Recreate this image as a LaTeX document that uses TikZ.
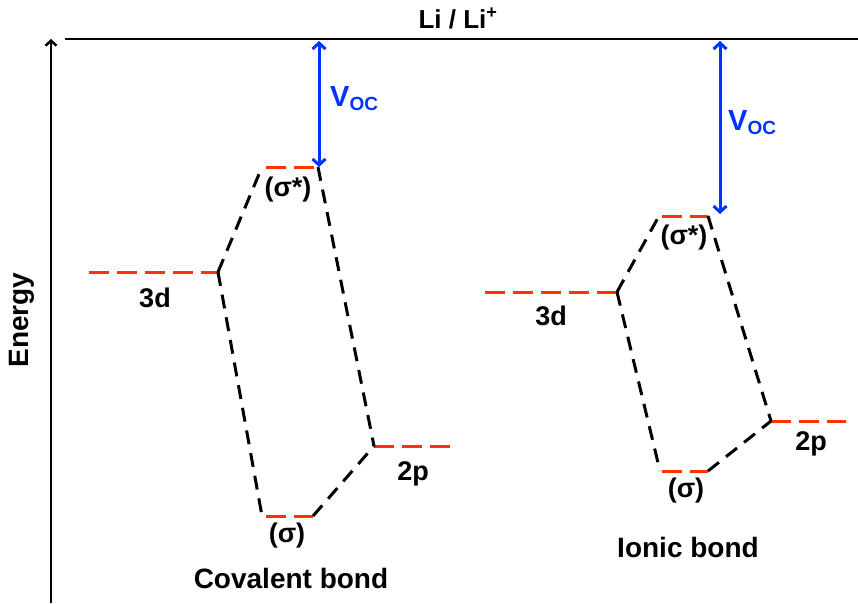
\documentclass[tikz,border=0pt]{standalone}
\usepackage{fontspec}
\setmainfont{Liberation Sans}
\usetikzlibrary{arrows.meta}
\definecolor{lvlred}{RGB}{255,51,0}
\definecolor{vblue}{RGB}{0,51,255}
\begin{document}
\begin{tikzpicture}[x=1pt,y=-1pt,
  level/.style={draw=lvlred,line width=3pt,dash pattern=on 20pt off 8pt},
  link/.style={draw=black,line width=3pt,dash pattern=on 14pt off 9pt},
  lab/.style={inner sep=0pt,anchor=base,font=\fontsize{27}{32}\selectfont\bfseries},
  bond/.style={inner sep=0pt,anchor=base,font=\fontsize{28}{33}\selectfont\bfseries},
  voc/.style={inner sep=0pt,anchor=base west,text=vblue,font=\fontsize{29}{34}\selectfont\bfseries},
  vocarrow/.style={draw=vblue,line width=3pt,{Straight Barb[length=6pt,width=13pt]}-{Straight Barb[length=6pt,width=13pt]}}
]
\useasboundingbox (0,0) rectangle (858,603);
% reference line and axis
\coordinate (topL) at (65,39);
\coordinate (topR) at (858,39);
\draw[line width=2.7pt] (topL) -- (topR);
\node[inner sep=0pt,anchor=base,font=\fontsize{26}{30}\selectfont\bfseries] (li) at (458,28) {Li / Li\textsuperscript{+}};
\coordinate (axB) at (51,603);
\coordinate (axT) at (51,39);
\draw[line width=2.5pt,-{Straight Barb[length=5pt,width=11pt]}] (axB) -- (axT);
\node[inner sep=0pt,rotate=90,font=\fontsize{28}{33}\selectfont\bfseries] (energy) at (22,320) {Energy};

% ---- Covalent bond ----
\coordinate (a3dL) at (89,272);  \coordinate (a3dR) at (218,272);
\coordinate (asL) at (266,167);  \coordinate (asR) at (314,167);
\coordinate (abL) at (266,516);  \coordinate (abR) at (313,516);
\coordinate (a2pL) at (374,446); \coordinate (a2pR) at (450,446);
\draw[level] (a3dL) -- (a3dR);
\draw[level] (asL) -- (asR);
\draw[level] (abL) -- (abR);
\draw[level] (a2pL) -- (a2pR);
\draw[link] (a3dR) -- (262,167);
\draw[link] (a3dR) -- (262,516);
\draw[link] (318,167) -- (a2pL);
\draw[link] (abR) -- (a2pL);
\node[lab] (a3dT) at (155,307) {3d};
\node[lab] (asT) at (288,196) {(σ*)};
\node[lab] (abT) at (287,542) {(σ)};
\node[lab] (a2pT) at (413,480) {2p};
\node[bond] (cov) at (291,588) {Covalent bond};
\coordinate (avT) at (319,41); \coordinate (avB) at (319,167);
\draw[vocarrow] (avT) -- (avB);
\node[voc] (av) at (330,106) {V\textsubscript{\fontsize{19}{22}\selectfont OC}};

% ---- Ionic bond ----
\coordinate (b3dL) at (485,292); \coordinate (b3dR) at (617,292);
\coordinate (bsL) at (662,216);  \coordinate (bsR) at (708,216);
\coordinate (bbL) at (662,471);  \coordinate (bbR) at (708,471);
\coordinate (b2pL) at (771,421); \coordinate (b2pR) at (846,421);
\draw[level] (b3dL) -- (b3dR);
\draw[level] (bsL) -- (bsR);
\draw[level] (bbL) -- (bbR);
\draw[level] (b2pL) -- (b2pR);
\draw[link] (b3dR) -- (659,216);
\draw[link] (b3dR) -- (660,471);
\draw[link] (bsR) -- (b2pL);
\draw[link] (bbR) -- (b2pL);
\node[lab] (b3dT) at (551,325) {3d};
\node[lab] (bsT) at (684,244) {(σ*)};
\node[lab] (bbT) at (686,497) {(σ)};
\node[lab] (b2pT) at (811,450) {2p};
\node[bond] (ion) at (688,557) {Ionic bond};
\coordinate (bvT) at (720,41); \coordinate (bvB) at (720,214);
\draw[vocarrow] (bvT) -- (bvB);
\node[voc] (bv) at (728,130) {V\textsubscript{\fontsize{19}{22}\selectfont OC}};
\end{tikzpicture}
\end{document}
